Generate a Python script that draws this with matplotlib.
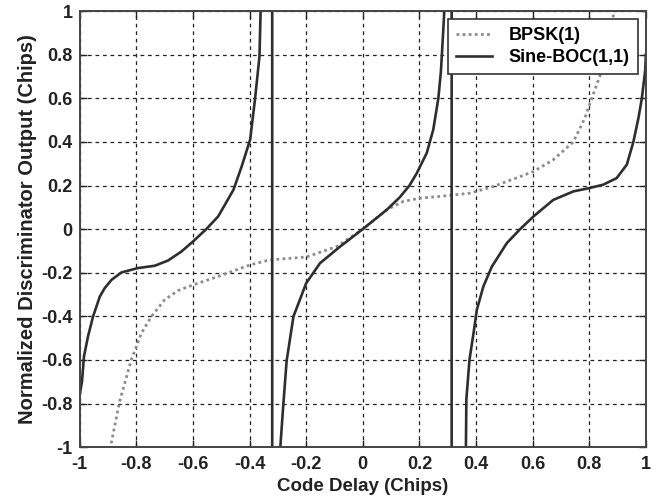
import numpy as np
import matplotlib
matplotlib.use("Agg")
import matplotlib.pyplot as plt
from matplotlib.ticker import FormatStrFormatter

# valores (atrasos em chips)
bpsk_x = [-0.893, -0.859, -0.818, -0.782, -0.747, -0.700, -0.653, -0.600,
          -0.511, -0.398, -0.328, -0.200, -0.092, 0.0, 0.085, 0.143, 0.202,
          0.273, 0.379, 0.460, 0.556, 0.603, 0.673, 0.744, 0.785, 0.809,
          0.839, 0.862, 0.887]
bpsk_y = [-1.01, -0.79, -0.60, -0.477, -0.401, -0.324, -0.282, -0.256,
          -0.217, -0.164, -0.141, -0.128, -0.080, 0.0, 0.089, 0.127, 0.142,
          0.150, 0.165, 0.195, 0.241, 0.264, 0.318, 0.40, 0.51, 0.60,
          0.707, 0.82, 0.99]

# sine-BOC: uma serie so, os saltos passam por fora do eixo (como no matlab)
boc_x = [-1.0, -0.992, -0.985, -0.971, -0.953, -0.929, -0.912, -0.888,
         -0.853, -0.796, -0.735, -0.688, -0.641, -0.600, -0.553, -0.511,
         -0.457, -0.428, -0.398, -0.381, -0.365, -0.360, -0.320, -0.320,
         -0.292, -0.281, -0.269, -0.245, -0.200, -0.151, -0.080, 0.0,
         0.085, 0.130, 0.165, 0.191, 0.226, 0.249, 0.267, 0.276, 0.283,
         0.290, 0.314, 0.314, 0.364, 0.366, 0.377, 0.393, 0.403, 0.426,
         0.456, 0.509, 0.556, 0.603, 0.673, 0.744, 0.800, 0.850, 0.897,
         0.933, 0.956, 0.974, 0.986, 0.998, 1.0]
boc_y = [-0.76, -0.699, -0.584, -0.493, -0.401, -0.309, -0.271, -0.233,
         -0.199, -0.179, -0.168, -0.144, -0.103, -0.057, 0.0, 0.058,
         0.180, 0.287, 0.410, 0.593, 0.792, 1.05, 1.6, -1.6,
         -1.012, -0.809, -0.604, -0.401, -0.248, -0.156, -0.080, 0.0,
         0.089, 0.145, 0.200, 0.257, 0.349, 0.456, 0.600, 0.722, 0.880,
         1.05, 1.6, -1.6, -1.05, -0.78, -0.599, -0.462, -0.370, -0.263,
         -0.172, -0.064, 0.0, 0.058, 0.134, 0.173, 0.188, 0.204, 0.234,
         0.296, 0.400, 0.510, 0.600, 0.730, 0.80]

ticks = [-1, -0.8, -0.6, -0.4, -0.2, 0, 0.2, 0.4, 0.6, 0.8, 1]

plt.rcParams["font.family"] = ["Liberation Sans", "DejaVu Sans"]
plt.rcParams["font.weight"] = "bold"
plt.rcParams["axes.unicode_minus"] = False

fig = plt.figure(figsize=(6.59, 5.03), dpi=100)
ax = fig.add_axes([0.121, 0.111, 0.859, 0.867])

ax.plot(bpsk_x, bpsk_y, linestyle=(0, (1, 1.2)), color="#8c8c8c", lw=2.0,
        label="BPSK(1)")
ax.plot(boc_x, boc_y, color="#2e2e2e", lw=1.9, label="Sine-BOC(1,1)",
        solid_joinstyle="round")

ax.set_xlim(-1, 1)
ax.set_ylim(-1, 1)
ax.set_xticks(ticks)
ax.set_yticks(ticks)
ax.xaxis.set_major_formatter(FormatStrFormatter("%g"))
ax.yaxis.set_major_formatter(FormatStrFormatter("%g"))
ax.tick_params(direction="in", length=5, width=1, top=True, right=True,
               labelsize=13, colors="#222222")
ax.tick_params(axis="x", pad=6)
ax.tick_params(axis="y", pad=5)
ax.grid(True, color="#222222", linestyle=(0, (3, 3)), linewidth=0.9)
for s in ax.spines.values():
    s.set_color("#444444")
    s.set_linewidth(1.4)

ax.set_xlabel("Code Delay (Chips)", fontsize=13.5, fontweight="bold",
              color="#222222", labelpad=4)
ax.set_ylabel("Normalized Discriminator Output (Chips)", fontsize=14.5,
              fontweight="bold", color="#222222", labelpad=3)

leg = ax.legend(loc="upper right", fontsize=13, fancybox=False,
                framealpha=1, edgecolor="#333333", borderpad=0.45,
                handlelength=2.0, handletextpad=0.9, labelspacing=0.25,
                borderaxespad=0.45)
leg.get_frame().set_linewidth(1.2)

fig.savefig("out.png", dpi=100)
